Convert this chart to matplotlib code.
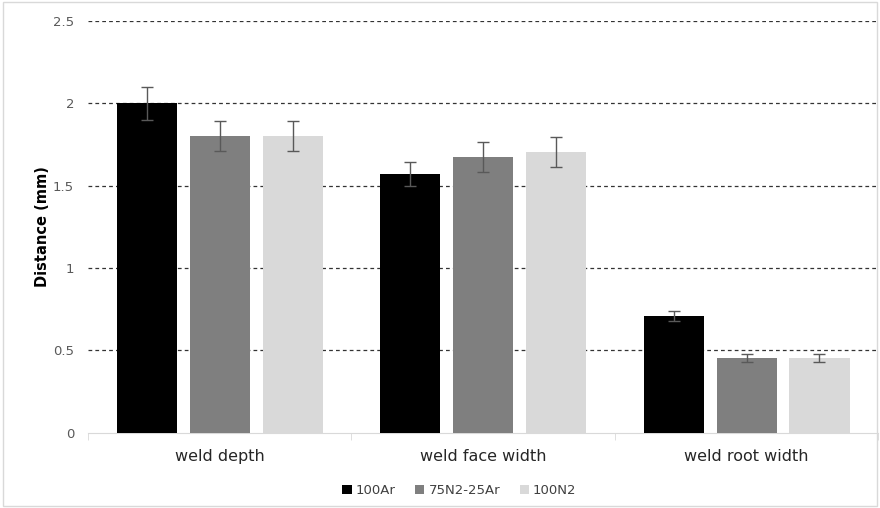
import numpy as np
import matplotlib
matplotlib.use("Agg")
import matplotlib.pyplot as plt
from matplotlib.patches import Rectangle

categories = ["weld depth", "weld face width", "weld root width"]
series = ["100Ar", "75N2-25Ar", "100N2"]
values_100ar = [2.00, 1.57, 0.71]
values_75n2 = [1.80, 1.675, 0.455]
values_100n2 = [1.80, 1.705, 0.455]
err_100ar = [0.10, 0.075, 0.03]
err_75n2 = [0.09, 0.09, 0.025]
err_100n2 = [0.09, 0.09, 0.025]
yticks = [0, 0.5, 1, 1.5, 2, 2.5]

colors = ["#000000", "#7f7f7f", "#d9d9d9"]

fig = plt.figure(figsize=(8.8, 5.08), dpi=100)
fig.patches.append(Rectangle((0.003, 0.003), 0.994, 0.994, transform=fig.transFigure,
                             fill=False, edgecolor="#d9d9d9", linewidth=1))
ax = fig.add_axes([0.1, 0.148, 0.898, 0.811])

x = np.arange(len(categories))
width = 0.228
step = 0.277
all_vals = [values_100ar, values_75n2, values_100n2]
all_errs = [err_100ar, err_75n2, err_100n2]
for i, (name, vals, errs) in enumerate(zip(series, all_vals, all_errs)):
    ax.bar(x + (i - 1) * step, vals, width, color=colors[i], label=name, zorder=3)
    ax.errorbar(x + (i - 1) * step, vals, yerr=errs, fmt="none", ecolor="#595959",
                elinewidth=1, capsize=4, capthick=1, zorder=4)

ax.set_xlim(-0.5, 2.5)
ax.set_ylim(0, 2.5)
ax.set_yticks(yticks)
ax.set_yticklabels([f"{t:g}" for t in yticks], color="#595959", fontsize=9.5)
# dashed gridlines (none at zero, the axis line sits there)
for t in yticks[1:]:
    ax.axhline(t, linestyle=(0, (3, 2.5)), color="#333333", linewidth=0.9, zorder=0)
ax.tick_params(axis="y", length=0, pad=10)

ax.set_xticks(x)
ax.set_xticklabels(categories, fontsize=11.5, color="#262626")
ax.tick_params(axis="x", length=0, pad=12)
ax.set_xticks([-0.5, 0.5, 1.5, 2.5], minor=True)
ax.tick_params(axis="x", which="minor", length=5, color="#d9d9d9", direction="out")

for s in ["top", "right", "left"]:
    ax.spines[s].set_visible(False)
ax.spines["bottom"].set_color("#d9d9d9")

ax.set_ylabel("Distance (mm)", fontsize=10.5, fontweight="bold", labelpad=2)

ax.legend(loc="upper center", bbox_to_anchor=(0.47, -0.095), ncol=3, frameon=False,
          fontsize=9.5, handlelength=0.7, handleheight=0.7, handletextpad=0.3,
          columnspacing=1.5, labelcolor="#404040")

fig.savefig("out.png", dpi=100)
